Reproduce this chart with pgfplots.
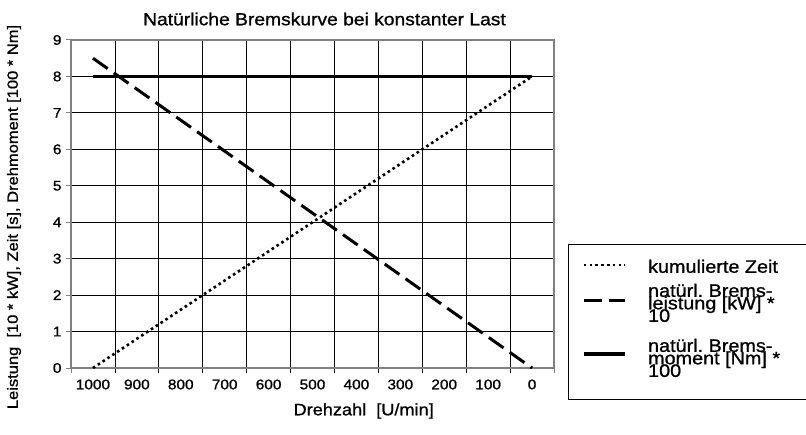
\documentclass[border=0pt]{standalone}
\usepackage{fontspec}
\setmainfont{Liberation Sans}[FakeStretch=1.1, FakeBold=1]
\setsansfont{Liberation Sans}[FakeStretch=1.1, FakeBold=1]
\usepackage{pgfplots}
\pgfplotsset{compat=1.18}
\pgfplotsset{lgoff/.style={legend image code/.code={\draw[##1] (0pt,#1) -- (41.5pt,#1);}}}
\newcommand\lgtext[2]{\parbox{150pt}{\raggedright\frenchspacing\rmfamily\fontsize{18}{12.5}\selectfont\lineskiplimit=-\maxdimen\rule[-3.5pt]{0pt}{14.5pt}#1\rule[-#2]{0pt}{11pt}}}
\begin{document}
\begin{tikzpicture}[x=1pt,y=1pt]
\useasboundingbox (0,0) rectangle (806,434);
\begin{axis}[
  at={(71pt,66pt)}, anchor=south west,
  scale only axis, width=483pt, height=328pt,
  xmin=-0.5, xmax=10.5, ymin=0, ymax=9,
  xtick={0,...,10},
  xticklabels={1000,900,800,700,600,500,400,300,200,100,0},
  minor xtick={0.5,1.5,2.5,3.5,4.5,5.5,6.5,7.5,8.5,9.5},
  extra x ticks={-0.5,10.5}, extra x tick labels={},
  extra x tick style={grid=none, major x tick style={draw=gray, line width=1pt}},
  ytick={1,...,8},
  extra y ticks={0,9}, extra y tick style={grid=none},
  tick pos=left,
  major x tick style={draw=none},
  minor x tick style={draw=black, line width=0.8pt},
  major y tick style={draw=gray, line width=1pt},
  tick align=outside, major tick length=5pt, minor tick length=5pt,
  xminorgrids=true, ymajorgrids=true,
  major grid style={black, line width=0.8pt},
  minor grid style={black, line width=0.8pt},
  axis line style={draw=gray, line width=1.3pt},
  /pgf/number format/assume math mode=true,
  tick label style={font=\fontsize{14}{17}\selectfont},
  xticklabel style={yshift=-3pt},
  yticklabel style={xshift=-1pt},
  legend style={
    at={(1.029,0.378)}, anchor=north west,
    draw=black, line width=0.8pt,
    font=\rmfamily,
    inner xsep=13.5pt, inner ysep=15.3pt,
    row sep=7.5pt, column sep=21pt,
    nodes={inner sep=0pt, text height=, text depth=},
    cells={anchor=west},
  },
]
\addplot[black, line width=2.6pt, dash pattern=on 2.6pt off 3.2pt, lgoff=3pt] coordinates {
 (0,0) (1,0.8) (2,1.6) (3,2.4) (4,3.2) (5,4.0) (6,4.8) (7,5.6) (8,6.4) (9,7.2) (10,8.0)};
\addlegendentry{\lgtext{kumulierte Zeit}{0pt}}
\addplot[black, line width=3pt, dash pattern=on 18pt off 7.5pt, lgoff=6.6pt] coordinates {
 (0,8.5) (1,7.65) (2,6.8) (3,5.95) (4,5.1) (5,4.25) (6,3.4) (7,2.55) (8,1.7) (9,0.85) (10,0)};
\addlegendentry{\lgtext{natürl. Brems-\\leistung [kW] * 10}{9.5pt}}
\addplot[black, line width=3.7pt, lgoff=7.9pt] coordinates {
 (0,8) (1,8) (2,8) (3,8) (4,8) (5,8) (6,8) (7,8) (8,8) (9,8) (10,8)};
\addlegendentry{\lgtext{natürl. Brems-\\moment [Nm] * 100}{7.5pt}}
\end{axis}
\node[font=\fontsize{17.5}{20}\selectfont] at (324.5,415) {Natürliche Bremskurve bei konstanter Last};
\node[font=\fontsize{16.5}{19}\selectfont] at (363.7,23) {Drehzahl\ \ [U/min]};
\node[rotate=90, font=\fontsize{15}{18}\selectfont] at (14,217) {Leistung\ \ [10 * kW], Zeit [s], Drehmoment [100 * Nm]};
\end{tikzpicture}
\end{document}
